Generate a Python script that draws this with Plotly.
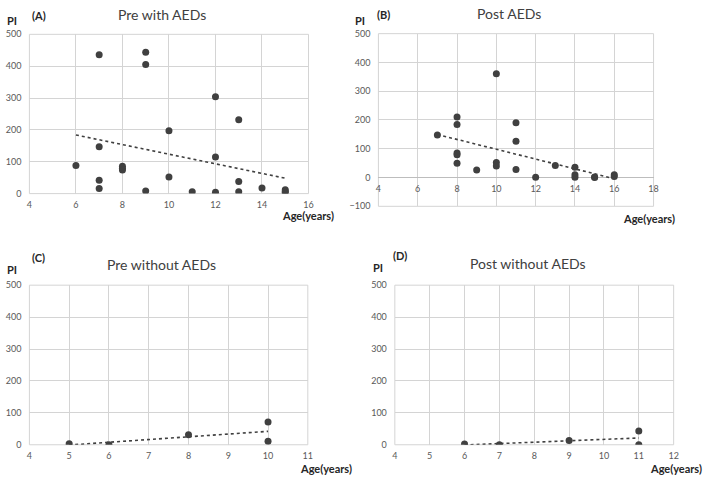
import numpy as np
import plotly.graph_objects as go

# ---------------- data ----------------
pre_aed_age = [6, 7, 7, 7, 7, 8, 8, 8, 9, 9, 9, 10, 10, 11, 12, 12, 12, 13, 13, 13, 14, 15, 15, 15]
pre_aed_pi = [88, 436, 147, 42, 16, 86, 80, 74, 444, 405, 8, 197, 52, 6, 304, 115, 4, 232, 38, 6, 18, 12, 7, 3]

post_aed_age = [7, 8, 8, 8, 8, 8, 9, 10, 10, 10, 11, 11, 11, 12, 13, 14, 14, 14, 15, 15, 16, 16]
post_aed_pi = [148, 210, 184, 85, 79, 50, 26, 361, 52, 40, 190, 126, 28, 1, 42, 36, 10, 1, 2, 0, 10, 4]

pre_no_age = [5, 6, 8, 10, 10]
pre_no_pi = [3, 0, 31, 71, 11]

post_no_age = [6, 7, 9, 11, 11]
post_no_pi = [2, 0, 13, 43, 0]

panel_letters = ["(A)", "(B)", "(C)", "(D)"]
panel_titles = ["Pre with AEDs", "Post AEDs", "Pre without AEDs", "Post without AEDs"]
y_label = "PI"
x_label = "Age(years)"

# ---------------- layout helpers ----------------
W, H = 709, 482
FONT = "Lato, 'Open Sans', sans-serif"
MARK = "#404040"
GRID = "#d4d4d4"
TICK = "#595959"

def px(x):
    return x / W

def py(y):
    return 1 - y / H

# pixel boxes: (left, right, top, bottom)
boxes = [
    (26.7, 309.0, 29.0, 192.0),
    (379.7, 658.0, 28.3, 205.0),
    (26.7, 308.3, 285.7, 449.0),
    (396.3, 678.3, 285.7, 449.0),
]
xranges = [[4, 16], [4, 18], [4, 11], [4, 12]]
xdtick = [2, 2, 1, 1]
yranges = [[0, 500], [-100, 500], [0, 500], [0, 500]]

datasets = [
    (pre_aed_age, pre_aed_pi),
    (post_aed_age, post_aed_pi),
    (pre_no_age, pre_no_pi),
    (post_no_age, post_no_pi),
]

fig = go.Figure()
layout = dict(
    width=W, height=H,
    margin=dict(l=0, r=0, t=0, b=0),
    paper_bgcolor="white", plot_bgcolor="white",
    showlegend=False,
    font=dict(family=FONT, color=TICK, size=9),
)
annotations = []
shapes = []

for i, ((xs, ys), box) in enumerate(zip(datasets, boxes)):
    n = i + 1
    xa = "xaxis" if n == 1 else f"xaxis{n}"
    ya = "yaxis" if n == 1 else f"yaxis{n}"
    xr = "x" if n == 1 else f"x{n}"
    yr = "y" if n == 1 else f"y{n}"
    l, r, t, b = box

    # trend line (linear least squares) from data
    slope, icpt = np.polyfit(np.array(xs, float), np.array(ys, float), 1)
    tx = np.array([min(xs), max(xs)], float)
    ty = slope * tx + icpt
    fig.add_trace(go.Scatter(x=tx, y=ty, mode="lines", xaxis=xr, yaxis=yr,
                             line=dict(color=MARK, width=1.6, dash="dot"),
                             hoverinfo="skip"))
    fig.add_trace(go.Scatter(x=xs, y=ys, mode="markers", xaxis=xr, yaxis=yr,
                             marker=dict(color=MARK, size=7, line=dict(width=0))))

    ydom = [py(b), py(t)]
    yaxis = dict(domain=ydom, anchor=xr, range=yranges[i], dtick=100,
                 showgrid=True, gridcolor=GRID, gridwidth=1,
                 zeroline=(i == 1), zerolinecolor="#bdbdbd", zerolinewidth=1.2,
                 showline=False, ticks="", ticklabelstandoff=7,
                 tickfont=dict(size=9, color=TICK), fixedrange=True)
    xaxis = dict(domain=[px(l), px(r)], range=xranges[i], dtick=xdtick[i],
                 showgrid=True, gridcolor=GRID, gridwidth=1,
                 zeroline=False, showline=False, ticks="", ticklabelstandoff=4,
                 tickfont=dict(size=9, color=TICK), fixedrange=True)
    if i == 1:
        y0, y1 = yranges[i]
        frac = (0 - y0) / (y1 - y0)
        xaxis.update(anchor="free", position=ydom[0] + frac * (ydom[1] - ydom[0]))
    else:
        xaxis.update(anchor=yr)
    layout[xa] = xaxis
    layout[ya] = yaxis

    shapes.append(dict(type="rect", xref=f"{xr} domain", yref=f"{yr} domain",
                       x0=0, x1=1, y0=0, y1=1, line=dict(color=GRID, width=1),
                       layer="below"))

# text annotations
letter_pos = [(27, 10), (376, 9), (27, 257), (392, 255)]
title_pos = [(161, 9), (512, 8), (160, 265), (531, 264)]
pi_pos = [(2, 15), (354, 15), (2, 270), (372, 268)]
age_pos = [(308, 214), (653, 217), (327, 473), (681, 473)]

for i in range(4):
    lx, ly = letter_pos[i]
    annotations.append(dict(x=px(lx), y=py(ly), xref="paper", yref="paper",
                            text=f"<b>{panel_letters[i]}</b>", showarrow=False,
                            xanchor="left", yanchor="middle",
                            font=dict(family=FONT, size=11, color="#262626")))
    tx_, ty_ = title_pos[i]
    annotations.append(dict(x=px(tx_), y=py(ty_), xref="paper", yref="paper",
                            text=panel_titles[i], showarrow=False,
                            xanchor="center", yanchor="middle",
                            font=dict(family=FONT, size=14, color="#404040")))
    qx, qy = pi_pos[i]
    annotations.append(dict(x=px(qx), y=py(qy), xref="paper", yref="paper",
                            text=f"<b>{y_label}</b>", showarrow=False,
                            xanchor="left", yanchor="middle",
                            font=dict(family=FONT, size=11, color="#262626")))
    ax_, ay_ = age_pos[i]
    annotations.append(dict(x=px(ax_), y=py(ay_), xref="paper", yref="paper",
                            text=f"<b>{x_label}</b>", showarrow=False,
                            xanchor="center", yanchor="middle",
                            font=dict(family=FONT, size=11, color="#262626")))

layout["annotations"] = annotations
layout["shapes"] = shapes
fig.update_layout(**layout)
fig.write_html("out.html",
               config={"displayModeBar": False},
               post_script="document.body.style.margin='0';document.body.style.overflow='hidden';")
